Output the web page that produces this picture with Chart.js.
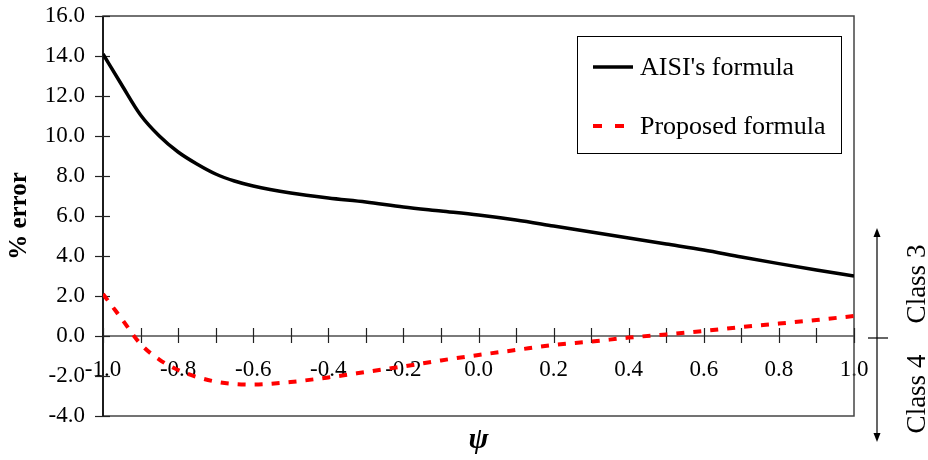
<!DOCTYPE html>
<html><head><meta charset="utf-8">
<script src="https://cdn.jsdelivr.net/npm/chart.js@4/dist/chart.umd.min.js"></script>
<style>html,body{margin:0;padding:0;background:#fff}#wrap{width:928px;height:460px;position:relative}</style>
</head><body><div id="wrap"><canvas id="c" width="928" height="460"></canvas></div>
<script>
// ---- data ----
const psi      = [-1.0,-0.95,-0.9,-0.85,-0.8,-0.75,-0.7,-0.65,-0.6,-0.5,-0.4,-0.3,-0.2,-0.1,0.0,0.1,0.2,0.3,0.4,0.5,0.6,0.7,0.8,0.9,1.0];
const aisi     = [14.1,12.55,11.05,10.0,9.2,8.6,8.1,7.75,7.5,7.15,6.9,6.7,6.45,6.25,6.05,5.8,5.5,5.2,4.9,4.6,4.3,3.95,3.62,3.3,3.0];
const proposed = [2.1,0.85,-0.4,-1.18,-1.7,-2.05,-2.28,-2.4,-2.43,-2.3,-2.07,-1.8,-1.52,-1.22,-0.95,-0.7,-0.45,-0.28,-0.08,0.08,0.25,0.45,0.62,0.8,1.0];
const seriesNames = ["AISI's formula", "Proposed formula"];
const yTitle = "% error";
const xTitle = "\u03C8";
const classLabels = ["Class 3", "Class 4"];

const SERIF = '"Liberation Serif","Times New Roman",serif';
Chart.defaults.font.family = SERIF;
Chart.defaults.color = '#000';

const frameAndTicks = {
  id: 'frameAndTicks',
  beforeDatasetsDraw(chart) {
    const {ctx, chartArea: a, scales: {x, y}} = chart;
    ctx.save();
    ctx.strokeStyle = '#444'; ctx.lineWidth = 1.5;
    ctx.strokeRect(a.left, a.top, a.right - a.left, a.bottom - a.top);
    ctx.strokeStyle = '#000';
    ctx.beginPath(); ctx.moveTo(a.left, a.top); ctx.lineTo(a.left, a.bottom); ctx.stroke();
    ctx.lineWidth = 1.2; ctx.strokeStyle = '#222';
    y.ticks.forEach(t => {
      const py = Math.round(y.getPixelForValue(t.value)) + 0.5;
      ctx.beginPath(); ctx.moveTo(a.left - 8, py); ctx.lineTo(a.left + 7, py); ctx.stroke();
    });
    const y0 = y.getPixelForValue(0);
    x.ticks.forEach(t => {
      const px = Math.round(x.getPixelForValue(t.value)) + 0.5;
      ctx.beginPath(); ctx.moveTo(px, y0 - 8); ctx.lineTo(px, y0 + 7); ctx.stroke();
    });
    ctx.restore();
  }
};

const legendBox = {
  id: 'legendBox',
  afterDraw(chart) {
    const {ctx} = chart;
    ctx.save();
    ctx.fillStyle = '#fff'; ctx.strokeStyle = '#000'; ctx.lineWidth = 1;
    ctx.fillRect(577.5, 36.5, 264, 117);
    ctx.strokeRect(577.5, 36.5, 264, 117);
    const rows = [67, 126];
    const sampleEnd = [633, 626];
    chart.data.datasets.forEach((ds, i) => {
      ctx.strokeStyle = ds.borderColor; ctx.lineWidth = ds.borderWidth;
      ctx.setLineDash(i === 1 ? [9, 13] : []);
      ctx.beginPath(); ctx.moveTo(593, rows[i]); ctx.lineTo(sampleEnd[i], rows[i]); ctx.stroke();
      ctx.setLineDash([]);
      ctx.fillStyle = '#000'; ctx.font = '26px ' + SERIF;
      ctx.textAlign = 'left'; ctx.textBaseline = 'middle';
      ctx.fillText(ds.label, 640, rows[i] + 1);
    });
    ctx.restore();
  }
};

const classMarks = {
  id: 'classMarks',
  afterDraw(chart) {
    const {ctx, scales: {y}} = chart;
    const y0 = y.getPixelForValue(0) + 2;
    const top = y0 - 110, bot = y0 + 104, ax = 877;
    ctx.save();
    ctx.strokeStyle = '#000'; ctx.fillStyle = '#000'; ctx.lineWidth = 1.2;
    ctx.beginPath(); ctx.moveTo(ax, top + 4); ctx.lineTo(ax, bot - 4); ctx.stroke();
    ctx.beginPath(); ctx.moveTo(868, y0); ctx.lineTo(888, y0); ctx.stroke();
    ctx.beginPath(); ctx.moveTo(ax, top); ctx.lineTo(ax - 3.5, top + 9); ctx.lineTo(ax + 3.5, top + 9); ctx.closePath(); ctx.fill();
    ctx.beginPath(); ctx.moveTo(ax, bot); ctx.lineTo(ax - 3.5, bot - 9); ctx.lineTo(ax + 3.5, bot - 9); ctx.closePath(); ctx.fill();
    ctx.font = '27px ' + SERIF; ctx.textAlign = 'center'; ctx.textBaseline = 'middle';
    [[classLabels[0], y0 - 54], [classLabels[1], y0 + 56]].forEach(([txt, cy]) => {
      ctx.save(); ctx.translate(918, cy); ctx.rotate(-Math.PI / 2); ctx.fillText(txt, 0, 0); ctx.restore();
    });
    ctx.restore();
  }
};

new Chart(document.getElementById('c'), {
  type: 'line',
  data: {
    datasets: [
      {label: seriesNames[0], data: psi.map((v, i) => ({x: v, y: aisi[i]})), xAxisID: 'x', yAxisID: 'y',
       borderColor: '#000', borderWidth: 3.5, pointRadius: 0, cubicInterpolationMode: 'monotone', fill: false},
      {label: seriesNames[1], data: psi.map((v, i) => ({x: v, y: proposed[i]})), xAxisID: 'x', yAxisID: 'y',
       borderColor: '#ff0000', borderWidth: 4, borderDash: [8, 9], pointRadius: 0, cubicInterpolationMode: 'monotone', fill: false}
    ]
  },
  options: {
    responsive: false, animation: false, devicePixelRatio: 1,
    layout: {padding: {top: 16, right: 74, bottom: 0, left: 0}},
    plugins: {legend: {display: false}, tooltip: {enabled: false}},
    scales: {
      x: {
        type: 'linear', position: {y: 0}, min: -1, max: 1,
        afterFit(s) { s.height = 0; s.paddingLeft = 0; s.paddingRight = 0; },
        ticks: {stepSize: 0.1, autoSkip: false, maxRotation: 0, padding: 20,
                font: {size: 23},
                callback(v) { return Math.round(v * 10) % 2 === 0 ? v.toFixed(1) : ''; }},
        grid: {display: true, drawOnChartArea: false, drawTicks: false},
        border: {display: true, color: '#7a7a7a', width: 2}
      },
      x2: {
        type: 'linear', position: 'bottom', min: -1, max: 1,
        afterFit(s) { s.height = 44; s.paddingLeft = 0; s.paddingRight = 0; },
        ticks: {display: false}, grid: {display: false}, border: {display: false},
        title: {display: true, text: xTitle, font: {size: 30, weight: 'bold', style: 'italic'}, padding: {top: 0, bottom: 2}}
      },
      y: {
        min: -4, max: 16,
        afterFit(s) { s.width = 103; s.paddingTop = 0; s.paddingBottom = 0; },
        ticks: {stepSize: 2, padding: 18, font: {size: 23}, callback(v) { return v.toFixed(1); }},
        grid: {display: true, drawOnChartArea: false, drawTicks: false},
        border: {display: false},
        title: {display: true, text: yTitle, font: {size: 25, weight: 'bold'}, padding: {top: 5, bottom: 0}}
      }
    }
  },
  plugins: [frameAndTicks, legendBox, classMarks]
});
</script></body></html>
